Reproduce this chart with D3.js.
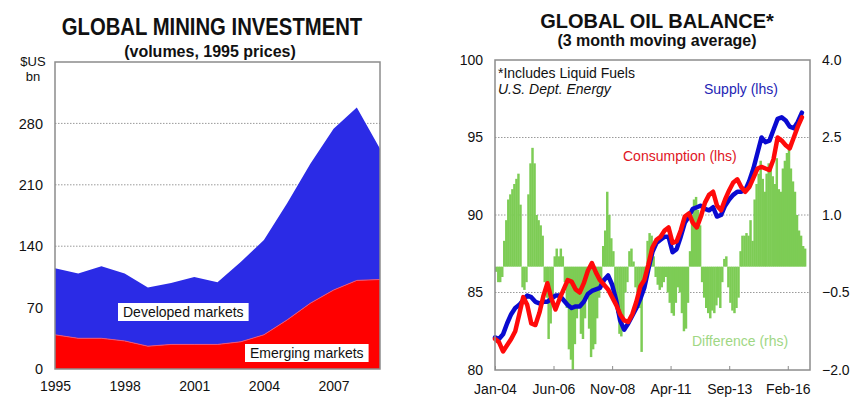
<!DOCTYPE html>
<html><head><meta charset="utf-8">
<script src="https://cdn.jsdelivr.net/npm/d3@7"></script>
<style>
body{margin:0;background:#fff;}
svg{display:block;font-family:"Liberation Sans",Arial,sans-serif;}
</style>
</head><body>
<svg id="c" width="857" height="412"></svg>
<script>
// ---------- LEFT CHART DATA ----------
const years = [1995,1996,1997,1998,1999,2000,2001,2002,2003,2004,2005,2006,2007,2008,2009];
const emerging  = [39,35,35,32,26,28,28,28,31,39,56,75,90,101,102];
const developed = [76,74,82,77,67,70,77,71,91,108,133,159,184,197,149];
const leftYTicks = [0,70,140,210,280];
const leftXTicks = [1995,1998,2001,2004,2007];

// ---------- RIGHT CHART DATA ----------
// supply & consumption: every 2 months from Jan-04 (mb/d)
const supply = [82.1,82.0,82.3,83.0,83.6,84.0,84.2,84.5,84.8,84.7,84.4,84.3,84.4,84.4,84.6,84.8,84.8,84.5,84.2,84.0,
  84.1,84.1,84.4,84.9,85.1,85.2,85.3,85.8,86.1,85.5,84.5,83.2,82.6,83.0,83.5,84.0,84.6,85.3,86.5,87.6,
  88.2,88.4,88.6,88.6,87.6,87.8,88.6,89.5,89.9,90.4,90.5,90.6,90.4,90.3,90.5,89.9,90.0,90.6,91.0,91.3,
  91.5,91.5,91.6,92.2,93.0,94.0,95.0,94.7,94.8,95.5,96.2,96.3,96.1,95.7,95.6,96.0,96.6];
const consumption = [82.0,81.8,81.2,81.6,82.0,82.5,83.6,84.7,84.2,83.0,82.9,83.7,84.8,85.6,84.6,83.9,84.6,85.2,85.8,85.7,
  85.2,85.0,85.6,86.4,86.9,86.3,85.8,85.5,85.2,84.7,84.2,83.6,83.2,83.1,83.6,84.4,85.4,85.8,86.8,87.9,
  88.4,88.6,89.0,89.2,88.2,88.3,89.0,89.9,90.1,89.5,89.2,89.9,90.8,91.3,91.5,90.6,90.3,91.0,91.6,92.1,
  92.3,91.8,91.5,91.8,92.4,93.0,93.1,93.0,92.9,93.6,95.0,94.8,94.5,94.3,95.0,95.7,96.3];
// difference: monthly from Jan-04 (rhs)
const difference = [-0.1,-0.3,-0.3,-0.2,0.5,0.9,1.3,1.4,1.5,1.6,1.7,1.8,1.2,-0.4,-0.45,-0.3,1.4,2.0,2.3,2.0,
  1.0,0.9,0.8,0.6,-0.3,-0.6,-1.4,-1.1,-0.6,0.2,0.35,0.2,0.35,0.2,-0.3,-0.8,-1.6,-1.8,-2.0,-1.5,
  -1.0,-0.8,-1.3,-1.4,-1.0,-0.6,-1.2,-1.75,-1.6,-1.5,-1.0,-0.6,-0.3,0.4,0.7,1.45,1.0,0.55,0.3,-0.5,
  -0.9,-1.3,-1.35,-1.0,-0.5,-0.3,0.3,0.35,0.1,-0.4,-0.5,-0.8,-1.65,-0.5,-0.3,0.5,0.65,0.6,0.2,-0.2,
  -0.35,-0.45,-0.4,-0.3,-0.2,-0.5,-0.7,-0.9,-0.95,-0.7,-0.4,-0.5,-0.9,-1.25,-1.2,-0.7,0.3,1.0,1.3,1.35,
  1.1,0.8,-0.3,-0.6,-0.8,-0.9,-1.0,-0.85,-0.9,-0.75,-0.6,-0.8,-0.3,0.15,0.2,-0.4,-0.7,-0.85,-0.9,-0.8,
  -0.6,0.3,0.6,0.6,0.65,0.6,0.9,0.5,1.3,1.6,1.8,2.05,1.7,1.45,1.8,2.0,1.9,1.75,1.6,2.1,
  1.5,1.45,1.9,2.05,2.2,2.35,1.9,1.65,1.45,1.0,0.7,0.6,0.4,0.35];
const rightLTicks = [80,85,90,95,100];
const rightRTicks = [-2.0,-0.5,1.0,2.5,4.0];
const rightXTicks = ["Jan-04","Jun-06","Nov-08","Apr-11","Sep-13","Feb-16"];

const svg = d3.select("#c");
const GRID = "#9a9a9a", FRAME = "#8c8c8c";
const FONT = "'Liberation Sans',Arial,sans-serif";

// ================= LEFT CHART =================
(function(){
  const L=55, R=380, T=62, B=369;
  const x = d3.scaleLinear().domain([1995,2009]).range([L,R]);
  const y = d3.scaleLinear().domain([0,350]).range([B,T]);
  const rows = years.map((yr,i)=>({year:yr, emerging:emerging[i], developed:developed[i]}));
  const stack = d3.stack().keys(["emerging","developed"])(rows);
  const area = d3.area().x(d=>x(d.data.year)).y0(d=>y(d[0])).y1(d=>y(d[1]));
  const g = svg.append("g");
  g.selectAll("line.grid").data(leftYTicks.filter(v=>v>0)).enter().append("line")
    .attr("x1",L).attr("x2",R).attr("y1",d=>y(d)).attr("y2",d=>y(d))
    .attr("stroke",GRID).attr("stroke-width",1).attr("stroke-dasharray","1.5,1.5");
  g.append("path").datum(stack[1]).attr("d",area).attr("fill","#2b2be6");
  g.append("path").datum(stack[0]).attr("d",area).attr("fill","#ff0000");
  g.append("path").datum(stack[0]).attr("d",d3.line().x(d=>x(d.data.year)).y(d=>y(d[1])))
    .attr("fill","none").attr("stroke","#e8557a").attr("stroke-width",1);
  g.append("rect").attr("x",L).attr("y",T).attr("width",R-L).attr("height",B-T)
    .attr("fill","none").attr("stroke",FRAME).attr("stroke-width",1.5);
  const ya = d3.axisLeft(y).tickValues(leftYTicks).tickSize(0).tickPadding(12);
  const yg = g.append("g").attr("transform",`translate(${L},0)`).call(ya);
  yg.select(".domain").remove();
  yg.selectAll("text").attr("font-size",14.5).attr("fill","#111").attr("font-family",FONT);
  const xa = d3.axisBottom(x).tickValues(leftXTicks).tickFormat(d3.format("d")).tickSize(0).tickPadding(12);
  const xg = g.append("g").attr("transform",`translate(0,${B})`).call(xa);
  xg.select(".domain").remove();
  xg.selectAll("text").attr("font-size",14).attr("fill","#111").attr("font-family",FONT);
  g.append("text").attr("x",33).attr("y",66).attr("text-anchor","middle").attr("font-size",13).attr("fill","#111").text("$US");
  g.append("text").attr("x",33).attr("y",81).attr("text-anchor","middle").attr("font-size",13).attr("fill","#111").text("bn");
  g.append("text").attr("transform","translate(212,35) scale(1,1.15)").attr("text-anchor","middle")
    .attr("font-size",20.3).attr("font-weight","bold").attr("fill","#111").text("GLOBAL MINING INVESTMENT");
  g.append("text").attr("x",210).attr("y",57).attr("text-anchor","middle")
    .attr("font-size",16).attr("font-weight","bold").attr("fill","#111").text("(volumes, 1995 prices)");
  function boxLabel(tx,ty,txt){
    const r = g.append("rect").attr("fill","#fff");
    const t = g.append("text").attr("x",tx).attr("y",ty).attr("font-size",14).attr("fill","#111").text(txt);
    const bb = t.node().getBBox();
    r.attr("x",bb.x-5).attr("y",bb.y-1).attr("width",bb.width+10).attr("height",bb.height+2);
  }
  boxLabel(123,317,"Developed markets");
  boxLabel(250,358,"Emerging markets");
})();

// ================= RIGHT CHART =================
(function(){
  const L=495, R=810, T=60, B=370;
  const monthDate = m => new Date(2004, m, 1);
  const x = d3.scaleTime().domain([new Date(2004,0,1), new Date(2017,0,1)]).range([L,R]);
  const yl = d3.scaleLinear().domain([80,100]).range([B,T]);
  const yr = d3.scaleLinear().domain([-2,4]).range([B,T]);
  const g = svg.append("g");
  g.selectAll("line.grid").data([85,90,95]).enter().append("line")
    .attr("x1",L).attr("x2",R).attr("y1",d=>yl(d)).attr("y2",d=>yl(d))
    .attr("stroke",GRID).attr("stroke-width",1).attr("stroke-dasharray","1.5,1.5");
  const bw = x(monthDate(1))-x(monthDate(0));
  g.selectAll("rect.bar").data(difference).enter().append("rect")
    .attr("x",(d,i)=>x(monthDate(i))).attr("width",bw+0.4)
    .attr("y",d=>Math.min(yr(d),yr(0))).attr("height",d=>Math.abs(yr(d)-yr(0)))
    .attr("fill","#7dcc55");
  const line = d3.line().x((d,i)=>x(monthDate(i*2))).y(d=>yl(d));
  g.append("path").datum(supply).attr("d",line).attr("fill","none").attr("stroke","#0a0ad0").attr("stroke-width",4.5).attr("stroke-linejoin","round").attr("stroke-linecap","round");
  g.append("path").datum(consumption).attr("d",line).attr("fill","none").attr("stroke","#ff0a0a").attr("stroke-width",4.5).attr("stroke-linejoin","round").attr("stroke-linecap","round");
  g.append("rect").attr("x",L).attr("y",T).attr("width",R-L).attr("height",B-T)
    .attr("fill","none").attr("stroke",FRAME).attr("stroke-width",1.5);
  const yla = d3.axisLeft(yl).tickValues(rightLTicks).tickSize(0).tickPadding(12);
  const ylg = g.append("g").attr("transform",`translate(${L},0)`).call(yla);
  ylg.select(".domain").remove();
  const yra = d3.axisRight(yr).tickValues(rightRTicks).tickFormat(d3.format(".1f")).tickSize(0).tickPadding(12);
  const yrg = g.append("g").attr("transform",`translate(${R},0)`).call(yra);
  yrg.select(".domain").remove();
  const parse = d3.timeParse("%b-%y"), fmt = d3.timeFormat("%b-%y");
  const xa = d3.axisBottom(x).tickValues(rightXTicks.map(parse)).tickFormat(fmt).tickSizeInner(-4).tickSizeOuter(0).tickPadding(14);
  const xg = g.append("g").attr("transform",`translate(0,${B})`).call(xa);
  xg.select(".domain").remove();
  xg.selectAll("line").attr("stroke",FRAME);
  g.selectAll(".tick text").attr("font-size",14).attr("fill","#111").attr("font-family",FONT);
  g.append("text").attr("transform","translate(657,28) scale(1,1.05)").attr("text-anchor","middle")
    .attr("font-size",20).attr("font-weight","bold").attr("fill","#111").text("GLOBAL OIL BALANCE*");
  g.append("text").attr("x",657).attr("y",46).attr("text-anchor","middle")
    .attr("font-size",16).attr("font-weight","bold").attr("fill","#111").text("(3 month moving average)");
  g.append("text").attr("x",498).attr("y",78).attr("font-size",14).attr("fill","#111").text("*Includes Liquid Fuels");
  g.append("text").attr("x",498).attr("y",94).attr("font-size",14).attr("font-style","italic").attr("fill","#111").text("U.S. Dept. Energy");
  g.append("text").attr("x",704).attr("y",94).attr("font-size",14).attr("fill","#2424b4").text("Supply (lhs)");
  g.append("text").attr("x",623).attr("y",161).attr("font-size",14).attr("fill","#e0141e").text("Consumption (lhs)");
  g.append("text").attr("x",692).attr("y",346).attr("font-size",14).attr("fill","#9fd784").text("Difference (rhs)");
})();
</script>
</body></html>
